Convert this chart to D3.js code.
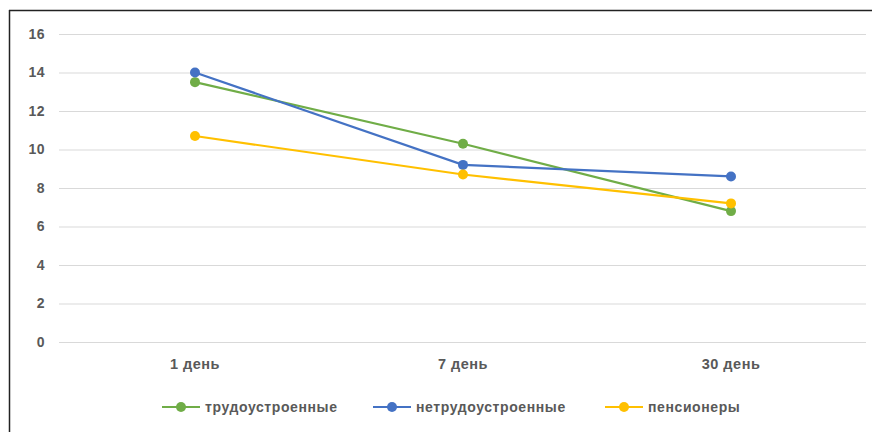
<!DOCTYPE html>
<html><head><meta charset="utf-8">
<script src="https://cdn.jsdelivr.net/npm/d3@7"></script>
<style>body{margin:0;background:#fff;}svg{display:block;}</style>
</head><body><svg id="c" width="872" height="432"></svg>
<script>
const categories = ["1 день", "7 день", "30 день"];
const seriesNames = ["трудоустроенные", "нетрудоустроенные", "пенсионеры"];
const employed = [13.5, 10.3, 6.8];
const unemployed = [14.0, 9.2, 8.6];
const pensioners = [10.7, 8.7, 7.2];
const yTicks = [0, 2, 4, 6, 8, 10, 12, 14, 16];
const colors = ["#70AD47", "#4472C4", "#FFC000"];
const series = [employed, unemployed, pensioners];

const svg = d3.select("#c");
const font = "'Liberation Sans', Arial, sans-serif";
// frame
svg.append("line").attr("x1",9.5).attr("x2",9.5).attr("y1",10).attr("y2",432).attr("stroke","#222").attr("stroke-width",1.5);
svg.append("line").attr("x1",9).attr("x2",872).attr("y1",10.5).attr("y2",10.5).attr("stroke","#222").attr("stroke-width",1.5);

const x = d3.scaleBand().domain(categories).range([61, 865]);
const y = d3.scaleLinear().domain([0, 16]).range([342, 34]);

const g = svg.append("g");
const yAxis = d3.axisLeft(y).tickValues(yTicks).tickSize(-(866-59)).tickPadding(14);
const ya = g.append("g").attr("transform","translate(59,0)").call(yAxis);
ya.select(".domain").remove();
ya.selectAll(".tick line").attr("stroke","#d9d9d9").attr("stroke-width",1);
ya.selectAll(".tick text").attr("fill","#595959").style("font-family",font).style("font-size","14px").style("font-weight","bold").style("letter-spacing","0.5px");

const xAxis = d3.axisBottom(x).tickSize(0).tickPadding(17);
const xa = g.append("g").attr("transform","translate(0,342)").call(xAxis);
xa.select(".domain").remove();
xa.selectAll(".tick text").attr("fill","#595959").style("font-family",font).style("font-size","14.5px").style("font-weight","bold").style("letter-spacing","0.5px");

const line = d3.line().x((d,i)=>x(categories[i])+x.bandwidth()/2).y(d=>y(d));
series.forEach((s,k)=>{
  g.append("path").datum(s).attr("d",line).attr("fill","none").attr("stroke",colors[k]).attr("stroke-width",2.2);
});
series.forEach((s,k)=>{
  g.selectAll(null).data(s).enter().append("circle")
    .attr("cx",(d,i)=>x(categories[i])+x.bandwidth()/2).attr("cy",d=>y(d)).attr("r",5).attr("fill",colors[k]);
});

// legend
const legX = [162, 373, 605];
const lg = svg.append("g").attr("transform","translate(0,407)");
seriesNames.forEach((n,k)=>{
  const L = lg.append("g").attr("transform",`translate(${legX[k]},0)`);
  L.append("line").attr("x1",0).attr("x2",38).attr("y1",0).attr("y2",0).attr("stroke",colors[k]).attr("stroke-width",2.2);
  L.append("circle").attr("cx",19).attr("cy",0).attr("r",5).attr("fill",colors[k]);
  L.append("text").attr("x",43).attr("y",0).attr("dy","0.35em").text(n)
    .attr("fill","#595959").style("font-family",font).style("font-size","14px").style("font-weight","bold").style("letter-spacing","0.6px");
});
</script></body></html>
